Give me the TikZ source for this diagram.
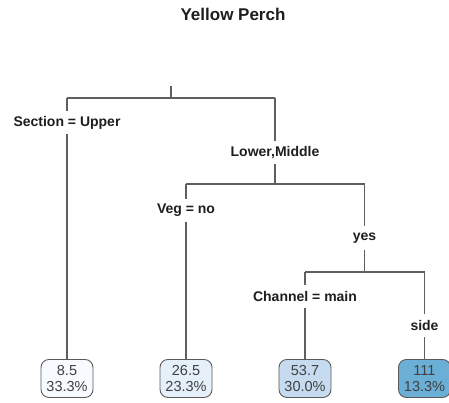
\documentclass[tikz,border=0pt]{standalone}
\usepackage{fontspec}
\setmainfont{Liberation Sans}
\definecolor{edgecol}{HTML}{5F5F5F}
\definecolor{boxline}{HTML}{5A5A5A}
\definecolor{txt}{HTML}{1E1E1E}
\definecolor{leafA}{HTML}{F7FBFF}
\definecolor{leafB}{HTML}{E6F0FA}
\definecolor{leafC}{HTML}{C6DBEF}
\definecolor{leafD}{HTML}{6BAED6}
\begin{document}
\begin{tikzpicture}[x=1pt,y=-1pt,
  edge/.style={draw=edgecol, line width=1.1pt},
  lab/.style={font=\bfseries\fontsize{14}{16}\selectfont, text=txt, inner sep=0pt, minimum height=23pt},
  leaf/.style={draw=boxline, line width=0.9pt, rounded corners=8pt, minimum width=52pt, minimum height=38pt, inner sep=0pt, align=center, font=\fontsize{14.5}{16.5}\selectfont, text=txt!85, anchor=north},
  ttl/.style={font=\bfseries\fontsize{17}{19}\selectfont, text=txt}]
\useasboundingbox[fill=white] (0,0) rectangle (449,402);
\node[ttl] (title) at (233,14) {Yellow Perch};
% coordinates of bars
\coordinate (top) at (171,86);
\coordinate (b1m) at (171,98);
\coordinate (b1l) at (67,98);
\coordinate (b1r) at (275,98);
\coordinate (b2m) at (275,184);
\coordinate (b2l) at (186,184);
\coordinate (b2r) at (364.5,184);
\coordinate (b3m) at (364.5,272);
\coordinate (b3l) at (305,272);
\coordinate (b3r) at (424.5,272);
% labels
\node[lab] (s1) at (67,122.5) {Section = Upper};
\node[lab] (s2) at (275,152.5) {Lower,Middle};
\node[lab] (v1) at (186,210.5) {Veg = no};
\node[lab] (v2) at (364.5,238) {yes};
\node[lab] (c1) at (305,296.5) {Channel = main};
\node[lab] (c2) at (424.5,325.5) {side};
% leaves
\node[leaf, fill=leafA] (l1) at (67,359) {8.5\\33.3\%};
\node[leaf, fill=leafB] (l2) at (186,359) {26.5\\23.3\%};
\node[leaf, fill=leafC] (l3) at (305,359) {53.7\\30.0\%};
\node[leaf, fill=leafD] (l4) at (424.5,359) {111\\13.3\%};
% edges
\draw[edge] (top) -- (b1m);
\draw[edge] (b1l) -- (b1r);
\draw[edge] (b1l) -- (s1.north);
\draw[edge] (s1.south) -- (l1.north);
\draw[edge] (b1r) -- (s2.north);
\draw[edge] (s2.south) -- (b2m);
\draw[edge] (b2l) -- (b2r);
\draw[edge] (b2l) -- (v1.north);
\draw[edge] (v1.south) -- (l2.north);
\draw[edge] (b2r) -- (v2.north);
\draw[edge] (v2.south) -- (b3m);
\draw[edge] (b3l) -- (b3r);
\draw[edge] (b3l) -- (c1.north);
\draw[edge] (c1.south) -- (l3.north);
\draw[edge] (b3r) -- (c2.north);
\draw[edge] (c2.south) -- (l4.north);
\end{tikzpicture}
\end{document}
